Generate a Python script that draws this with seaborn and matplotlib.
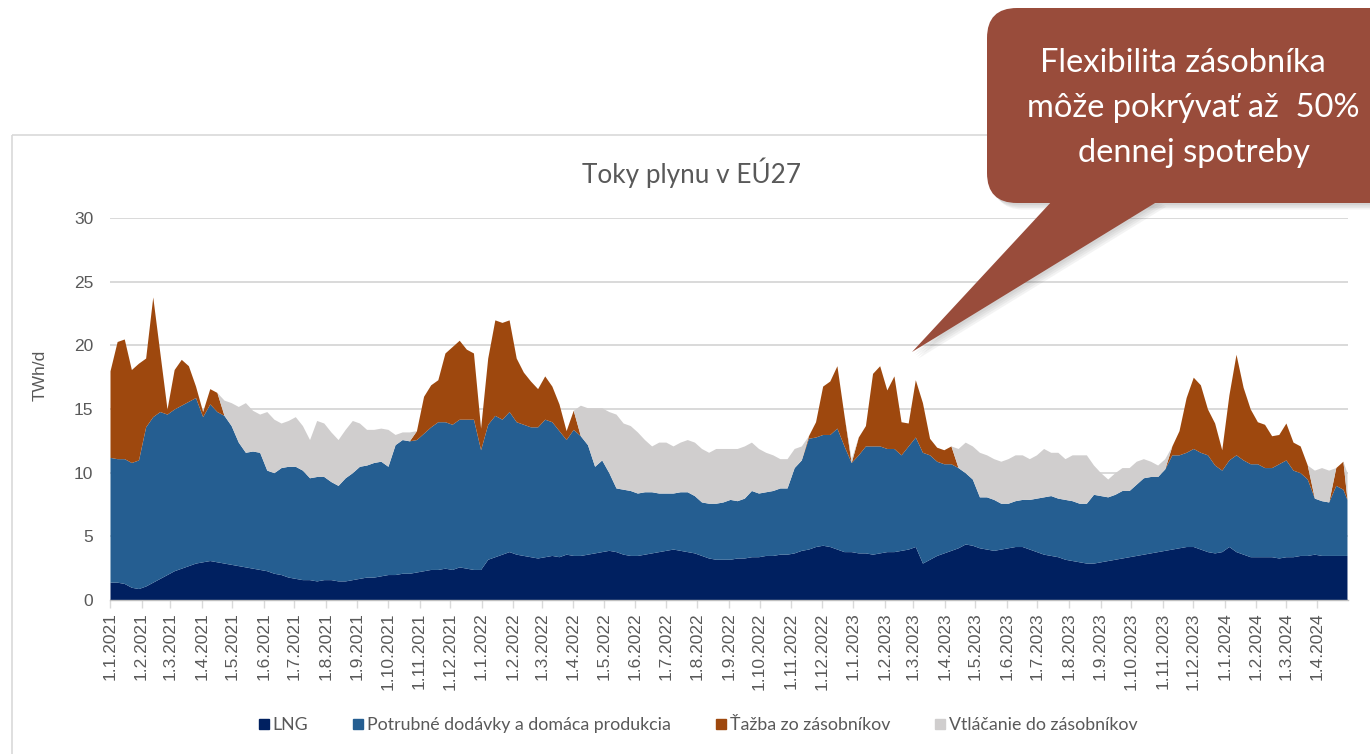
import numpy as np
import pandas as pd
import matplotlib
matplotlib.use("Agg")
import matplotlib.pyplot as plt
from matplotlib.patches import FancyBboxPatch, Polygon, Rectangle
from matplotlib.lines import Line2D
import seaborn as sns

# ---------------- data (weekly readings, TWh/d) ----------------
week_dates = list(pd.date_range("2021-01-01", periods=174, freq="7D")) + [pd.Timestamp("2024-04-30")]

lng = [1.4, 1.4, 1.3, 1.0, 0.9, 1.1, 1.4, 1.7, 2.0, 2.3, 2.5, 2.7, 2.9, 3.0, 3.1, 3.0, 2.9, 2.8, 2.7, 2.6,
       2.5, 2.4, 2.3, 2.1, 2.0, 1.8, 1.7, 1.6, 1.6, 1.5, 1.6, 1.6, 1.5, 1.5, 1.6, 1.7, 1.8, 1.8, 1.9, 2.0,
       2.0, 2.1, 2.1, 2.2, 2.3, 2.4, 2.4, 2.5, 2.4, 2.6, 2.5, 2.4, 2.4, 3.2, 3.4, 3.6, 3.8, 3.6, 3.5, 3.4,
       3.3, 3.4, 3.5, 3.4, 3.6, 3.5, 3.5, 3.6, 3.7, 3.8, 3.9, 3.8, 3.6, 3.5, 3.5, 3.6, 3.7, 3.8, 3.9, 4.0,
       3.9, 3.8, 3.7, 3.5, 3.3, 3.2, 3.2, 3.2, 3.3, 3.3, 3.4, 3.4, 3.5, 3.5, 3.6, 3.6, 3.7, 3.9, 4.0, 4.2,
       4.3, 4.2, 4.0, 3.8, 3.8, 3.7, 3.7, 3.6, 3.7, 3.8, 3.8, 3.9, 4.0, 4.2, 2.9, 3.2, 3.5, 3.7, 3.9, 4.1,
       4.4, 4.3, 4.1, 4.0, 3.9, 4.0, 4.1, 4.2, 4.2, 4.0, 3.8, 3.6, 3.5, 3.4, 3.2, 3.1, 3.0, 2.9, 2.9, 3.0,
       3.1, 3.2, 3.3, 3.4, 3.5, 3.6, 3.7, 3.8, 3.9, 4.0, 4.1, 4.2, 4.2, 4.0, 3.8, 3.7, 3.8, 4.2, 3.8, 3.6,
       3.4, 3.4, 3.4, 3.4, 3.3, 3.4, 3.4, 3.5, 3.5, 3.6, 3.5, 3.5, 3.5, 3.5, 3.5]

pipeline = [9.8, 9.7, 9.8, 9.8, 10.1, 12.5, 13.0, 13.1, 12.6, 12.7, 12.8, 12.9, 13.0, 11.4, 12.3, 11.8, 11.6, 10.9, 9.7, 9.0,
            9.2, 9.2, 7.9, 7.9, 8.4, 8.7, 8.8, 8.6, 8.0, 8.2, 8.1, 7.7, 7.5, 8.1, 8.4, 8.8, 8.8, 9.0, 9.0, 8.5,
            10.2, 10.5, 10.4, 10.4, 10.8, 11.2, 11.6, 11.5, 11.4, 11.6, 11.7, 11.8, 9.4, 10.6, 11.1, 10.6, 11.0, 10.4, 10.3, 10.2,
            10.3, 10.8, 10.5, 9.9, 9.0, 9.9, 9.4, 8.6, 6.8, 7.2, 6.1, 5.0, 5.1, 5.1, 4.9, 4.9, 4.8, 4.6, 4.5, 4.4,
            4.6, 4.7, 4.5, 4.2, 4.3, 4.4, 4.5, 4.7, 4.5, 4.7, 5.2, 5.0, 5.0, 5.1, 5.2, 5.2, 6.7, 7.1, 8.7, 8.6,
            8.7, 8.8, 9.5, 8.3, 7.0, 7.7, 8.4, 8.5, 8.4, 8.1, 8.1, 7.5, 8.1, 8.6, 8.7, 8.2, 7.4, 7.0, 6.8, 6.3,
            5.6, 5.2, 4.0, 4.1, 4.0, 3.6, 3.5, 3.6, 3.7, 3.9, 4.2, 4.5, 4.7, 4.6, 4.7, 4.7, 4.6, 4.7, 5.4, 5.2,
            5.0, 5.1, 5.3, 5.2, 5.6, 6.0, 6.0, 5.9, 6.4, 7.4, 7.3, 7.4, 7.7, 7.6, 7.6, 6.9, 6.4, 6.8, 7.6, 7.4,
            7.3, 7.3, 7.0, 7.0, 7.4, 7.6, 6.8, 6.5, 6.0, 4.4, 4.3, 4.2, 5.5, 5.2, 4.4]

withdrawal = [6.8, 9.2, 9.4, 7.3, 7.6, 5.4, 9.4, 4.6, 0.4, 3.1, 3.6, 2.8, 0.9, 0.4, 1.2, 1.5, 0.0, 0.0, 0.0, 0.0,
              0.0, 0.0, 0.0, 0.0, 0.0, 0.0, 0.0, 0.0, 0.0, 0.0, 0.0, 0.0, 0.0, 0.0, 0.0, 0.0, 0.0, 0.0, 0.0, 0.0,
              0.0, 0.0, 0.0, 0.7, 2.9, 3.3, 3.3, 5.4, 6.1, 6.2, 5.5, 5.2, 1.7, 5.2, 7.5, 7.6, 7.2, 5.0, 4.1, 3.6,
              3.0, 3.4, 2.8, 2.1, 0.7, 1.5, 0.0, 0.0, 0.0, 0.0, 0.0, 0.0, 0.0, 0.0, 0.0, 0.0, 0.0, 0.0, 0.0, 0.0,
              0.0, 0.0, 0.0, 0.0, 0.0, 0.0, 0.0, 0.0, 0.0, 0.0, 0.0, 0.0, 0.0, 0.0, 0.0, 0.0, 0.0, 0.0, 0.2, 1.2,
              3.8, 4.2, 4.9, 2.4, 0.0, 1.4, 1.6, 5.7, 6.3, 4.6, 5.7, 2.6, 1.8, 4.5, 3.9, 1.3, 1.1, 1.1, 1.4, 0.0,
              0.0, 0.0, 0.0, 0.0, 0.0, 0.0, 0.0, 0.0, 0.0, 0.0, 0.0, 0.0, 0.0, 0.0, 0.0, 0.0, 0.0, 0.0, 0.0, 0.0,
              0.0, 0.0, 0.0, 0.0, 0.0, 0.0, 0.0, 0.0, 0.0, 0.7, 1.9, 4.3, 5.6, 5.3, 3.6, 3.3, 1.6, 5.1, 7.9, 5.7,
              4.3, 3.3, 3.4, 2.5, 2.3, 2.9, 2.2, 2.1, 1.1, 0.0, 0.0, 0.0, 1.4, 2.2, 0.0]

injection = [0.0, 0.0, 0.0, 0.0, 0.0, 0.0, 0.0, 0.0, 0.0, 0.0, 0.0, 0.0, 0.0, 0.0, 0.0, 0.0, 1.2, 1.8, 2.8, 3.9,
             3.2, 3.0, 4.6, 4.2, 3.5, 3.6, 3.9, 3.5, 3.0, 4.4, 4.2, 3.9, 3.6, 3.8, 4.1, 3.4, 2.8, 2.6, 2.6, 2.9,
             0.8, 0.6, 0.7, 0.0, 0.0, 0.0, 0.0, 0.0, 0.0, 0.0, 0.0, 0.0, 0.0, 0.0, 0.0, 0.0, 0.0, 0.0, 0.0, 0.0,
             0.0, 0.0, 0.0, 0.0, 0.0, 0.0, 2.4, 2.9, 4.6, 4.1, 4.8, 5.8, 5.2, 5.1, 4.8, 4.1, 3.6, 4.0, 4.0, 3.7,
             3.9, 4.1, 4.2, 4.2, 4.0, 4.3, 4.2, 4.0, 4.1, 4.1, 3.8, 3.5, 3.1, 2.8, 2.3, 2.3, 1.5, 1.1, 0.0, 0.0,
             0.0, 0.0, 0.0, 0.0, 0.3, 0.0, 0.0, 0.0, 0.0, 0.0, 0.0, 0.0, 0.0, 0.0, 0.0, 0.0, 0.0, 0.0, 0.0, 1.5,
             2.4, 2.6, 3.5, 3.3, 3.2, 3.3, 3.5, 3.6, 3.5, 3.2, 3.4, 3.8, 3.4, 3.6, 3.2, 3.6, 3.8, 3.8, 2.3, 1.8,
             1.4, 1.7, 1.8, 1.8, 1.8, 1.5, 1.2, 0.9, 0.8, 0.0, 0.0, 0.0, 0.0, 0.0, 0.0, 0.0, 0.0, 0.0, 0.0, 0.0,
             0.0, 0.0, 0.0, 0.0, 0.0, 0.0, 0.0, 0.0, 0.0, 2.2, 2.6, 2.5, 0.0, 0.0, 2.1]

series_names = ["LNG", "Potrubné dodávky a domáca produkcia", "Ťažba zo zásobníkov", "Vtláčanie do zásobníkov"]
series_colors = ["#002060", "#255E91", "#9E480E", "#D0CECE"]

month_ticks = pd.date_range("2021-01-01", "2024-04-01", freq="MS")
tick_labels = [f"{d.day}.{d.month}.{d.year}" for d in month_ticks]
y_ticks = [0, 5, 10, 15, 20, 25, 30]

title = "Toky plynu v EÚ27"
y_label = "TWh/d"
callout_lines = ["Flexibilita zásobníka", "môže pokrývať až  50%", "dennej spotreby"]

# ---------------- figure ----------------
sns.set_theme(style="white")
plt.rcParams["font.family"] = ["Liberation Sans", "DejaVu Sans"]

W, H = 1370, 754
fig = plt.figure(figsize=(W / 100, H / 100), dpi=100)
fig.patch.set_facecolor("white")

ax = fig.add_axes([110 / W, 1 - 600 / H, (1348 - 110) / W, (600 - 218) / H])

df = pd.DataFrame({"date": week_dates, "lng": lng, "pipe": pipeline, "wd": withdrawal, "inj": injection})
ax.stackplot(df["date"], df["lng"], df["pipe"], df["wd"], df["inj"],
             colors=series_colors, linewidth=0, zorder=2)

ax.set_xlim(pd.Timestamp("2021-01-01"), pd.Timestamp("2024-05-01"))
ax.set_ylim(0, 30)
ax.set_yticks(y_ticks)
ax.set_yticklabels([str(v) for v in y_ticks])
ax.set_xticks(month_ticks)
ax.set_xticklabels(tick_labels, rotation=90)

ax.yaxis.grid(True, color="#D9D9D9", linewidth=1.4, zorder=0)
ax.xaxis.grid(False)
ax.set_axisbelow(True)
sns.despine(ax=ax, left=True, top=True, right=True)
ax.spines["bottom"].set_color("#BFBFBF")
ax.spines["bottom"].set_linewidth(1.0)
ax.spines["bottom"].set_zorder(3)
ax.set_facecolor("none")

ax.tick_params(axis="x", length=6, width=1, color="#D9D9D9", labelsize=12.5, labelcolor="#595959", pad=3,
               bottom=True, direction="out")
ax.tick_params(axis="y", length=0, labelsize=12.5, labelcolor="#595959", pad=12)

fig.text(40 / W, 1 - 375 / H, y_label, rotation=90, ha="center", va="center",
         fontsize=12.5, color="#595959")
fig.text(692 / W, 1 - 173 / H, title, ha="center", va="center", fontsize=18.8,
         color="#595959", family=["Lato", "DejaVu Sans"])

handles = [Line2D([0], [0], marker="s", linestyle="none", markersize=7.5,
                  markerfacecolor=c, markeredgecolor=c) for c in series_colors]
leg = fig.legend(handles, series_names, loc="center", bbox_to_anchor=(697 / W, 1 - 725 / H),
                 ncol=4, frameon=False, handletextpad=0.1, columnspacing=2.4, handlelength=0.8,
                 prop={"family": ["Lato", "DejaVu Sans"], "size": 12.8})
for t in leg.get_texts():
    t.set_color("#595959")

# ---------------- overlay: chart frame + callout ----------------
ov = fig.add_axes([0, 0, 1, 1], zorder=10)
ov.set_xlim(0, W)
ov.set_ylim(H, 0)
ov.axis("off")
ov.patch.set_alpha(0)

ov.add_patch(Rectangle((12, 135), W, H, facecolor="none", edgecolor="#D9D9D9", linewidth=1.2, zorder=1))

bubble_color = "#994C3B"
box_x0, box_y0, box_x1, box_y1 = 987, 8, 1400, 203
pointer = [(1053, 200), (1160, 200), (912, 352)]

# soft shadow
for i, a in enumerate([0.06, 0.06, 0.06, 0.06]):
    off = 2 + i * 1.5
    ov.add_patch(FancyBboxPatch((box_x0 + off, box_y0 + off), box_x1 - box_x0, box_y1 - box_y0,
                                boxstyle="round,pad=0,rounding_size=30", facecolor="#404040",
                                edgecolor="none", alpha=a, zorder=2))
    ov.add_patch(Polygon([(px + off, py + off) for px, py in pointer], closed=True,
                         facecolor="#404040", edgecolor="none", alpha=a, zorder=2))

ov.add_patch(FancyBboxPatch((box_x0, box_y0), box_x1 - box_x0, box_y1 - box_y0,
                            boxstyle="round,pad=0,rounding_size=30", facecolor=bubble_color,
                            edgecolor="none", zorder=3))
ov.add_patch(Polygon(pointer, closed=True, facecolor=bubble_color, edgecolor="none", zorder=3))

callout_x = [1183, 1193, 1194]
for i, line in enumerate(callout_lines):
    ov.text(callout_x[i], 63 + i * 45, line, ha="center", va="center", fontsize=23.5, color="white",
            family=["Lato", "DejaVu Sans"], zorder=4)

fig.savefig("out.png", dpi=100, facecolor="white")
